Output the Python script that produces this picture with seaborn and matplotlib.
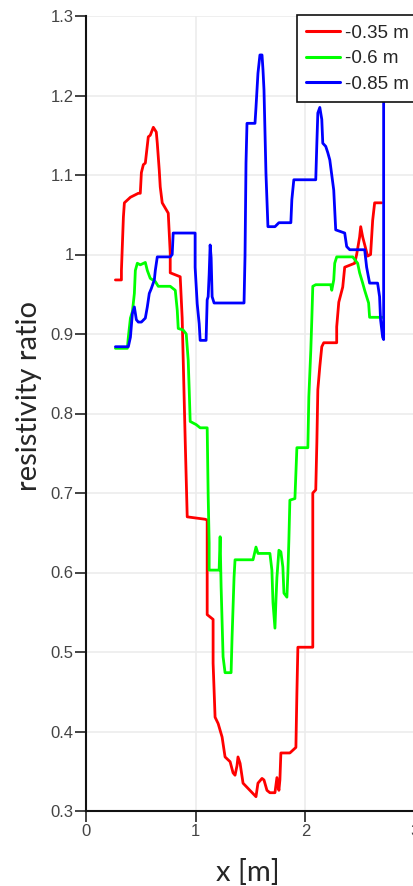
import numpy as np
import pandas as pd
import matplotlib
matplotlib.use("Agg")
import matplotlib.pyplot as plt
import seaborn as sns

# Resistivity ratio profiles along the line, one per depth
depth_labels = ["-0.35 m", "-0.6 m", "-0.85 m"]
line_colors = ["#ff0000", "#00ff00", "#0000ff"]

x_035 = [0.268, 0.314, 0.323, 0.323, 0.341, 0.35, 0.405, 0.477, 0.495, 0.505, 0.523,
         0.541, 0.568, 0.586, 0.614, 0.641, 0.65, 0.668, 0.677, 0.695, 0.75, 0.768,
         0.768, 0.859, 0.877, 0.886, 0.905, 0.923, 1.086, 1.105, 1.105, 1.105, 1.159,
         1.159, 1.177, 1.205, 1.241, 1.268, 1.314, 1.341, 1.359, 1.377, 1.386, 1.405,
         1.432, 1.55, 1.568, 1.605, 1.623, 1.65, 1.677, 1.723, 1.741, 1.759, 1.768,
         1.777, 1.859, 1.914, 1.923, 1.932, 2.068, 2.068, 2.095, 2.105, 2.114, 2.132,
         2.15, 2.168, 2.286, 2.286, 2.305, 2.341, 2.359, 2.45, 2.468, 2.495, 2.505,
         2.523, 2.568, 2.595, 2.614, 2.632, 2.695]
y_035 = [0.968, 0.968, 0.968, 0.98, 1.047, 1.065, 1.072, 1.077, 1.077, 1.103, 1.113,
         1.115, 1.148, 1.15, 1.16, 1.154, 1.14, 1.106, 1.085, 1.065, 1.052, 1.002,
         0.977, 0.972, 0.92, 0.87, 0.764, 0.67, 0.667, 0.666, 0.612, 0.547, 0.541,
         0.486, 0.418, 0.41, 0.393, 0.368, 0.362, 0.348, 0.345, 0.357, 0.368, 0.36,
         0.335, 0.318, 0.335, 0.341, 0.339, 0.326, 0.323, 0.323, 0.342, 0.326, 0.339,
         0.373, 0.373, 0.38, 0.448, 0.506, 0.506, 0.70, 0.704, 0.763, 0.83, 0.859,
         0.884, 0.889, 0.889, 0.909, 0.94, 0.959, 0.984, 0.989, 1.0, 1.022, 1.035,
         1.022, 0.998, 1.0, 1.043, 1.065, 1.065]

x_060 = [0.268, 0.377, 0.386, 0.405, 0.423, 0.441, 0.45, 0.468, 0.495, 0.541, 0.559,
         0.586, 0.632, 0.659, 0.768, 0.814, 0.832, 0.841, 0.886, 0.914, 0.932, 0.941,
         0.95, 1.005, 1.041, 1.105, 1.114, 1.123, 1.123, 1.214, 1.223, 1.232, 1.25,
         1.268, 1.323, 1.332, 1.35, 1.359, 1.523, 1.55, 1.568, 1.677, 1.695, 1.705,
         1.723, 1.732, 1.741, 1.759, 1.777, 1.795, 1.805, 1.832, 1.841, 1.85, 1.859,
         1.905, 1.914, 1.923, 2.023, 2.032, 2.05, 2.059, 2.068, 2.095, 2.232, 2.241,
         2.259, 2.268, 2.286, 2.432, 2.477, 2.495, 2.523, 2.541, 2.559, 2.577, 2.586,
         2.705]
y_060 = [0.882, 0.882, 0.896, 0.92, 0.928, 0.951, 0.98, 0.989, 0.987, 0.99, 0.98,
         0.97, 0.966, 0.96, 0.96, 0.955, 0.93, 0.907, 0.905, 0.90, 0.867, 0.83,
         0.79, 0.786, 0.782, 0.782, 0.697, 0.637, 0.603, 0.603, 0.645, 0.582, 0.494,
         0.474, 0.474, 0.519, 0.594, 0.616, 0.616, 0.632, 0.624, 0.624, 0.603, 0.562,
         0.53, 0.565, 0.594, 0.628, 0.626, 0.607, 0.574, 0.569, 0.60, 0.641, 0.691,
         0.693, 0.725, 0.757, 0.757, 0.821, 0.88, 0.918, 0.96, 0.962, 0.962, 0.955,
         0.968, 0.989, 0.997, 0.997, 0.989, 0.977, 0.964, 0.955, 0.947, 0.939, 0.921,
         0.921]

x_085 = [0.268, 0.386, 0.405, 0.423, 0.441, 0.459, 0.477, 0.505, 0.541, 0.559, 0.577,
         0.595, 0.623, 0.632, 0.65, 0.768, 0.786, 0.795, 0.877, 0.977, 0.995, 0.995,
         1.014, 1.032, 1.041, 1.095, 1.105, 1.114, 1.123, 1.132, 1.141, 1.15, 1.168,
         1.441, 1.45, 1.459, 1.468, 1.541, 1.55, 1.568, 1.586, 1.605, 1.614, 1.623,
         1.641, 1.659, 1.723, 1.759, 1.868, 1.877, 1.895, 2.095, 2.105, 2.114, 2.132,
         2.15, 2.159, 2.186, 2.205, 2.223, 2.259, 2.277, 2.359, 2.377, 2.405, 2.541,
         2.559, 2.586, 2.659, 2.677, 2.686, 2.705, 2.714, 2.714]
y_085 = [0.884, 0.884, 0.896, 0.926, 0.934, 0.918, 0.915, 0.915, 0.92, 0.934, 0.951,
         0.957, 0.968, 0.98, 0.997, 0.997, 1.0, 1.027, 1.027, 1.027, 1.027, 0.984,
         0.938, 0.913, 0.892, 0.892, 0.943, 0.947, 0.975, 1.012, 0.996, 0.947, 0.939,
         0.939, 0.998, 1.115, 1.165, 1.165, 1.185, 1.228, 1.251, 1.251, 1.232, 1.207,
         1.102, 1.035, 1.035, 1.04, 1.04, 1.069, 1.094, 1.094, 1.14, 1.178, 1.185,
         1.17, 1.14, 1.136, 1.128, 1.119, 1.081, 1.031, 1.027, 1.01, 1.006, 1.006,
         0.984, 0.964, 0.964, 0.947, 0.918, 0.896, 0.893, 1.25]

y_ticks = [0.3, 0.4, 0.5, 0.6, 0.7, 0.8, 0.9, 1.0, 1.1, 1.2, 1.3]
y_tick_labels = ["0.3", "0.4", "0.5", "0.6", "0.7", "0.8", "0.9", "1", "1.1", "1.2", "1.3"]
x_ticks = [0, 1, 2, 3]
x_tick_labels = ["0", "1", "2", "3"]

frames = []
for label, xs, ys in zip(depth_labels, [x_035, x_060, x_085], [y_035, y_060, y_085]):
    frames.append(pd.DataFrame({"x": xs, "ratio": ys, "depth": label}))
df = pd.concat(frames, ignore_index=True)

sns.set_style("whitegrid", {"grid.color": "#ececec", "axes.edgecolor": "black"})
plt.rcParams["font.family"] = ["Liberation Sans", "DejaVu Sans"]

fig = plt.figure(figsize=(4.13, 8.86), dpi=100)
ax = fig.add_axes([86 / 413, 75 / 886, 329 / 413, 795 / 886])

sns.lineplot(data=df, x="x", y="ratio", hue="depth", hue_order=depth_labels,
             palette=dict(zip(depth_labels, line_colors)), estimator=None,
             sort=False, units="depth", linewidth=2.0, ax=ax)

ax.set_xlim(0, 3)
ax.set_ylim(0.3, 1.3)
ax.set_xticks(x_ticks)
ax.set_xticklabels(x_tick_labels)
ax.set_yticks(y_ticks)
ax.set_yticklabels(y_tick_labels)
ax.grid(True, color="#ececec", linewidth=1.2)
ax.tick_params(axis="both", direction="out", length=8, width=1.2, color="#222222",
               labelsize=12, labelcolor="#444444", pad=1, left=True, bottom=True)

for side in ["top", "right"]:
    ax.spines[side].set_visible(False)
for side in ["left", "bottom"]:
    ax.spines[side].set_color("#111111")
    ax.spines[side].set_linewidth(1.5)

label_font = ["Lato", "DejaVu Sans"]
ax.set_xlabel("x [m]", fontsize=21, family=label_font)
ax.set_ylabel("resistivity ratio", fontsize=21, family=label_font)
ax.xaxis.set_label_coords(0.492, -0.061)
ax.yaxis.set_label_coords(-0.134, 0.522)

leg = ax.legend(loc="upper left", bbox_to_anchor=(0.641, 1.001), borderaxespad=0,
                frameon=True, fancybox=False, framealpha=1, edgecolor="#111111",
                fontsize=13.5, handlelength=1.8, handletextpad=0.27, labelspacing=0.45,
                borderpad=0.5, title=None)
leg.get_frame().set_linewidth(1.2)
for line in leg.get_lines():
    line.set_linewidth(2.2)

fig.savefig("out.png", dpi=100)
